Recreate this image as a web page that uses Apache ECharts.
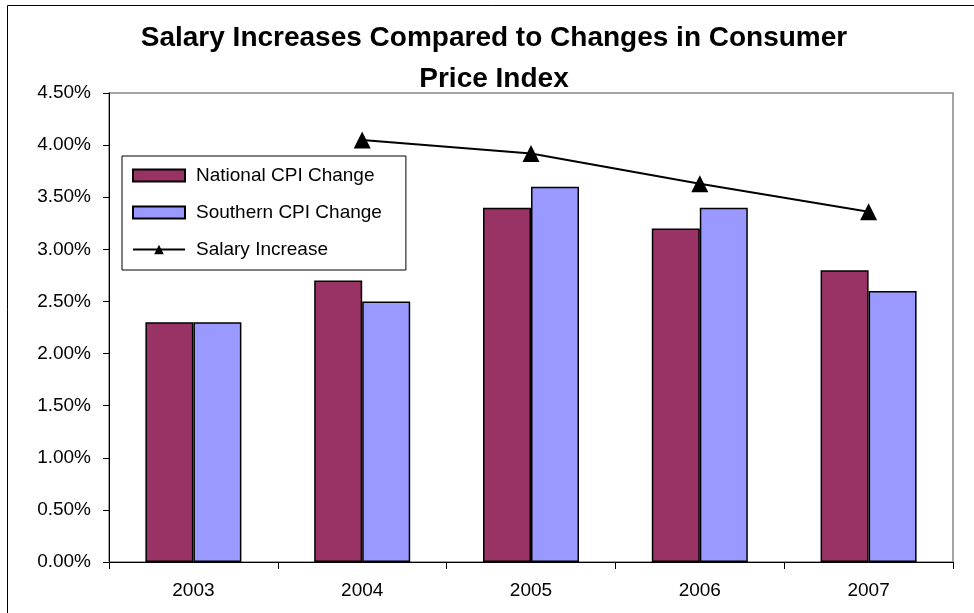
<!DOCTYPE html>
<html>
<head>
<meta charset="utf-8">
<script src="https://cdn.jsdelivr.net/npm/echarts@6/dist/echarts.min.js"></script>
<style>
html,body{margin:0;padding:0;background:#fff;}
#chart{width:974px;height:613px;}
</style>
</head>
<body>
<div id="chart"></div>
<script>
const categories = ['2003', '2004', '2005', '2006', '2007'];
const nationalCPI = [2.3, 2.7, 3.4, 3.2, 2.8];
const southernCPI = [2.3, 2.5, 3.6, 3.4, 2.6];
const salaryIncrease = [null, 4.05, 3.92, 3.63, 3.36];
const yTicks = { min: 0, max: 4.5, interval: 0.5 };

const font = 'Liberation Sans, Arial, sans-serif';
const chart = echarts.init(document.getElementById('chart'), null, { renderer: 'canvas' });
chart.setOption({
  backgroundColor: '#fff',
  animation: false,
  title: {
    text: 'Salary Increases Compared to Changes in Consumer\nPrice Index',
    left: 489, top: 13, textAlign: 'center',
    textStyle: { fontFamily: font, fontSize: 28, fontWeight: 'bold', color: '#000', lineHeight: 41 }
  },
  graphic: [{
    type: 'polyline', silent: true, z: 0,
    shape: { points: [[7.5, 640], [7.5, 5.5], [990, 5.5]] },
    style: { stroke: '#000', lineWidth: 1, fill: null }
  }],
  legend: {
    orient: 'vertical', left: 122, top: 156,
    padding: [10, 24, 11, 10],
    itemWidth: 52, itemHeight: 12, itemGap: 18,
    backgroundColor: '#fff', borderColor: '#000', borderWidth: 1,
    textStyle: { fontFamily: font, fontSize: 19, color: '#000', padding: [0, 0, 0, 6] },
    data: [
      { name: 'National CPI Change', icon: 'rect' },
      { name: 'Southern CPI Change', icon: 'rect' },
      { name: 'Salary Increase' }
    ]
  },
  grid: { left: 109, right: 21, top: 93, bottom: 51, show: true, borderColor: '#888', borderWidth: 1.5, backgroundColor: '#fff' },
  xAxis: {
    type: 'category', data: categories, boundaryGap: true,
    axisLine: { lineStyle: { color: '#000', width: 1 } },
    axisTick: { show: true, length: 7, lineStyle: { color: '#000' } },
    axisLabel: { fontFamily: font, fontSize: 19, color: '#000', margin: 19 }
  },
  yAxis: {
    type: 'value', min: yTicks.min, max: yTicks.max, interval: yTicks.interval,
    axisLine: { show: true, lineStyle: { color: '#000', width: 1 } },
    axisTick: { show: true, length: 6, lineStyle: { color: '#000' } },
    splitLine: { show: false },
    axisLabel: { fontFamily: font, fontSize: 19, color: '#000', margin: 18, formatter: v => v.toFixed(2) + '%' }
  },
  series: [
    { name: 'National CPI Change', type: 'bar', data: nationalCPI, barWidth: 48, barGap: '0%',
      itemStyle: { color: '#993366', borderColor: '#000', borderWidth: 1.5 } },
    { name: 'Southern CPI Change', type: 'bar', data: southernCPI, barWidth: 48, barGap: '0%',
      itemStyle: { color: '#9999FF', borderColor: '#000', borderWidth: 1.5 } },
    { name: 'Salary Increase', type: 'line', data: salaryIncrease, symbol: 'triangle', symbolSize: 17,
      lineStyle: { color: '#000', width: 2 }, itemStyle: { color: '#000' }, z: 5 }
  ]
});
</script>
</body>
</html>
